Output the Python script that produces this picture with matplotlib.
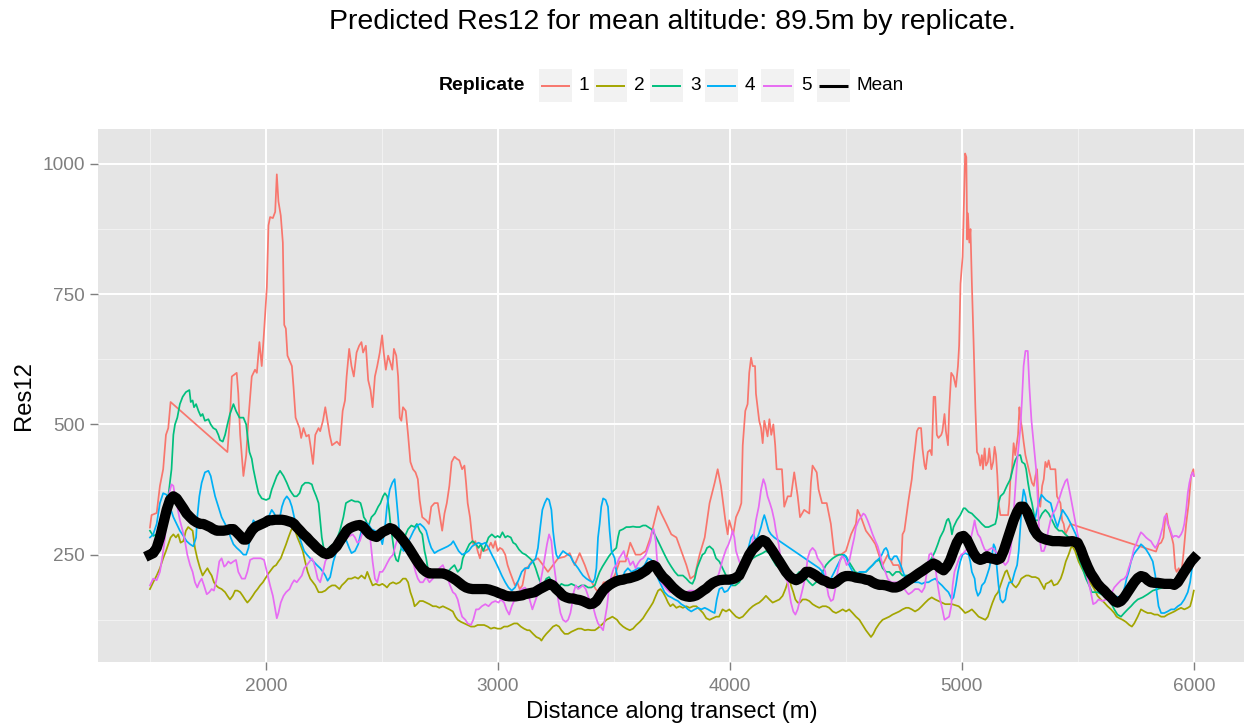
import matplotlib
matplotlib.use("Agg")
import matplotlib.pyplot as plt
from matplotlib.patches import Rectangle

# Res12 predictions along the transect, one list of (distance, value) per replicate
rep1 = [
    (1499, 302), (1506, 326), (1528, 330), (1542, 382), (1556, 414), (1568, 480), (1578, 493), (1588, 543),
    (1833, 447), (1844, 513), (1852, 592), (1873, 599), (1880, 559), (1888, 480), (1902, 401), (1914, 441),
    (1924, 513), (1938, 592), (1952, 605), (1960, 599), (1971, 658), (1981, 612), (1991, 678), (2003, 763),
    (2010, 882), (2017, 898), (2029, 896), (2039, 908), (2046, 980), (2053, 928), (2063, 901), (2072, 849),
    (2078, 691), (2085, 684), (2092, 632), (2111, 612), (2118, 572), (2127, 513), (2132, 507), (2144, 493),
    (2151, 474), (2161, 493), (2173, 477), (2184, 480), (2193, 454), (2202, 424), (2212, 480), (2226, 493),
    (2233, 487), (2245, 507), (2255, 533), (2262, 513), (2274, 480), (2284, 460), (2305, 467), (2318, 460),
    (2330, 526), (2340, 546), (2347, 592), (2358, 645), (2368, 612), (2378, 592), (2390, 638), (2401, 651),
    (2411, 658), (2418, 638), (2430, 651), (2440, 585), (2450, 566), (2459, 533), (2469, 592), (2479, 612),
    (2490, 638), (2500, 671), (2507, 638), (2516, 605), (2526, 632), (2536, 618), (2544, 605), (2551, 645),
    (2561, 632), (2569, 592), (2576, 513), (2583, 507), (2590, 533), (2602, 526), (2612, 480), (2622, 428),
    (2633, 414), (2644, 408), (2654, 395), (2662, 355), (2673, 322), (2690, 316), (2702, 309), (2712, 342),
    (2726, 349), (2740, 349), (2747, 329), (2759, 296), (2769, 329), (2779, 349), (2790, 382), (2800, 428),
    (2812, 438), (2822, 434), (2833, 431), (2845, 414), (2855, 421), (2862, 388), (2869, 349), (2879, 322),
    (2888, 283), (2893, 270), (2902, 276), (2912, 257), (2922, 243), (2930, 263), (2940, 257), (2955, 260),
    (2969, 273), (2979, 263), (2988, 276), (2998, 257), (3008, 263), (3019, 260), (3031, 250), (3041, 230),
    (3051, 217), (3062, 204), (3073, 191), (3083, 197), (3093, 184), (3105, 191), (3119, 224), (3131, 227),
    (3144, 237), (3172, 243), (3194, 230), (3215, 217), (3237, 230), (3259, 243), (3287, 246), (3309, 253),
    (3330, 230), (3352, 253), (3374, 230), (3395, 204), (3421, 184), (3435, 177), (3455, 197), (3478, 197),
    (3503, 210), (3524, 237), (3550, 237), (3570, 273), (3593, 250), (3614, 250), (3637, 257), (3657, 283),
    (3668, 303), (3690, 343), (3704, 329), (3726, 309), (3747, 289), (3769, 283), (3790, 257), (3812, 230),
    (3829, 204), (3848, 210), (3869, 250), (3891, 283), (3912, 349), (3934, 388), (3947, 414), (3961, 382),
    (3980, 316), (3990, 289), (3997, 316), (4014, 289), (4026, 322), (4040, 336), (4049, 349), (4055, 460),
    (4066, 526), (4076, 539), (4083, 599), (4091, 628), (4098, 612), (4108, 612), (4112, 559), (4126, 507),
    (4134, 493), (4141, 464), (4148, 507), (4155, 493), (4162, 477), (4170, 510), (4178, 480), (4187, 500),
    (4195, 460), (4201, 414), (4224, 414), (4234, 342), (4249, 362), (4263, 362), (4277, 408), (4292, 362),
    (4302, 322), (4320, 336), (4342, 329), (4349, 388), (4356, 421), (4374, 408), (4382, 375), (4397, 349),
    (4417, 349), (4435, 309), (4450, 250), (4478, 250), (4500, 257), (4522, 289), (4543, 309), (4550, 336),
    (4565, 322), (4586, 296), (4608, 283), (4627, 270), (4647, 243), (4658, 230), (4680, 250), (4704, 230),
    (4727, 230), (4737, 217), (4744, 289), (4752, 296), (4762, 329), (4770, 355), (4777, 375), (4784, 395),
    (4791, 428), (4798, 454), (4806, 487), (4813, 493), (4824, 493), (4830, 454), (4839, 421), (4844, 414),
    (4853, 447), (4863, 451), (4870, 441), (4878, 553), (4885, 553), (4892, 480), (4899, 474), (4911, 480),
    (4916, 487), (4925, 520), (4931, 487), (4940, 460), (4945, 526), (4954, 599), (4964, 592), (4974, 572),
    (4983, 612), (4988, 651), (4994, 770), (5003, 822), (5009, 928), (5014, 1020), (5019, 1013), (5023, 855),
    (5026, 905), (5032, 849), (5037, 875), (5043, 770), (5050, 664), (5058, 533), (5065, 447), (5072, 441),
    (5079, 421), (5086, 441), (5091, 414), (5098, 454), (5104, 421), (5112, 428), (5118, 454), (5127, 414),
    (5135, 428), (5141, 457), (5147, 441), (5153, 401), (5158, 349), (5166, 326), (5187, 326), (5199, 326),
    (5204, 349), (5209, 395), (5216, 414), (5223, 464), (5230, 441), (5242, 480), (5248, 533), (5252, 513),
    (5259, 493), (5266, 467), (5274, 441), (5288, 414), (5302, 388), (5310, 382), (5317, 401), (5324, 414),
    (5331, 349), (5338, 342), (5346, 382), (5353, 395), (5360, 428), (5367, 418), (5374, 431), (5382, 414),
    (5396, 414), (5403, 414), (5410, 362), (5425, 349), (5432, 316), (5439, 309), (5446, 289), (5461, 303),
    (5468, 309),
    (5837, 256), (5848, 270), (5859, 273), (5869, 283), (5877, 322), (5883, 329), (5892, 303), (5902, 289),
    (5912, 270), (5920, 224), (5926, 217), (5935, 224), (5945, 210), (5955, 250), (5967, 309), (5978, 349),
    (5988, 401), (5998, 414), (6000, 401),
]

rep2 = [
    (1499, 184), (1513, 197), (1528, 210), (1542, 224), (1556, 243), (1568, 257), (1578, 270), (1588, 283),
    (1600, 289), (1611, 283), (1621, 289), (1631, 273), (1643, 276), (1654, 296), (1664, 303), (1675, 299),
    (1683, 296), (1693, 263), (1703, 243), (1715, 224), (1726, 210), (1736, 217), (1747, 224), (1755, 217),
    (1765, 210), (1775, 197), (1784, 191), (1794, 187), (1808, 184), (1823, 178), (1833, 171), (1844, 164),
    (1856, 171), (1866, 181), (1876, 181), (1888, 178), (1899, 171), (1909, 164), (1919, 158), (1931, 164),
    (1942, 171), (1952, 178), (1963, 184), (1974, 191), (1986, 197), (1996, 204), (2010, 214), (2020, 220),
    (2032, 227), (2043, 230), (2053, 237), (2063, 243), (2075, 257), (2086, 270), (2096, 283), (2107, 296),
    (2115, 303), (2125, 296), (2135, 283), (2147, 270), (2158, 257), (2168, 237), (2179, 217), (2190, 204),
    (2202, 197), (2212, 191), (2226, 178), (2240, 178), (2255, 181), (2269, 187), (2284, 191), (2298, 191),
    (2316, 184), (2326, 191), (2340, 197), (2354, 204), (2368, 204), (2383, 207), (2397, 204), (2411, 210),
    (2426, 204), (2436, 217), (2447, 204), (2459, 191), (2473, 194), (2487, 191), (2501, 194), (2511, 191),
    (2521, 187), (2533, 194), (2547, 197), (2561, 194), (2576, 197), (2590, 204), (2602, 204), (2612, 197),
    (2622, 178), (2633, 164), (2640, 151), (2650, 155), (2662, 161), (2676, 161), (2690, 158), (2704, 155),
    (2719, 151), (2733, 151), (2747, 148), (2762, 151), (2776, 148), (2790, 145), (2805, 141), (2816, 131),
    (2826, 125), (2840, 121), (2855, 118), (2869, 115), (2883, 112), (2898, 112), (2912, 115), (2926, 115),
    (2940, 115), (2955, 112), (2969, 108), (2983, 110), (2998, 108), (3012, 108), (3026, 112), (3041, 112),
    (3055, 115), (3069, 118), (3083, 118), (3098, 112), (3112, 108), (3126, 105), (3136, 105), (3151, 98),
    (3165, 92), (3180, 89), (3187, 85), (3197, 92), (3208, 98), (3223, 105), (3237, 112), (3251, 115),
    (3263, 112), (3273, 105), (3287, 98), (3302, 98), (3316, 102), (3330, 105), (3345, 108), (3359, 108),
    (3374, 105), (3388, 106), (3402, 105), (3417, 105), (3427, 108), (3438, 112), (3453, 118), (3467, 125),
    (3481, 128), (3493, 131), (3503, 128), (3513, 125), (3524, 118), (3539, 112), (3553, 108), (3568, 105),
    (3582, 108), (3596, 115), (3611, 121), (3625, 128), (3639, 138), (3654, 148), (3668, 158), (3680, 171),
    (3690, 181), (3700, 184), (3711, 178), (3723, 168), (3733, 158), (3743, 151), (3754, 155), (3769, 148),
    (3783, 151), (3797, 148), (3812, 151), (3826, 148), (3841, 151), (3855, 151), (3869, 145), (3884, 138),
    (3898, 128), (3912, 125), (3927, 128), (3941, 131), (3953, 131), (3968, 145), (3983, 141), (3997, 145),
    (4011, 138), (4026, 131), (4040, 128), (4055, 131), (4069, 138), (4083, 145), (4098, 151), (4112, 155),
    (4126, 158), (4141, 164), (4155, 171), (4170, 164), (4184, 158), (4198, 161), (4213, 164), (4227, 171),
    (4239, 184), (4249, 197), (4256, 204), (4263, 191), (4273, 178), (4282, 164), (4292, 158), (4302, 158),
    (4313, 164), (4328, 164), (4342, 161), (4356, 155), (4371, 151), (4385, 148), (4399, 151), (4414, 151),
    (4428, 148), (4443, 141), (4457, 138), (4471, 141), (4486, 145), (4500, 141), (4514, 145), (4529, 138),
    (4543, 131), (4558, 125), (4572, 115), (4586, 105), (4598, 98), (4608, 92), (4618, 98), (4629, 108),
    (4644, 118), (4658, 125), (4673, 128), (4687, 131), (4701, 135), (4716, 138), (4730, 141), (4744, 145),
    (4759, 148), (4770, 148), (4784, 145), (4798, 141), (4813, 145), (4827, 151), (4842, 158), (4856, 164),
    (4870, 168), (4885, 164), (4899, 161), (4914, 158), (4928, 155), (4957, 155), (4986, 151), (5000, 145),
    (5014, 138), (5029, 141), (5043, 145), (5058, 138), (5072, 131), (5086, 128), (5101, 125), (5112, 131),
    (5122, 145), (5132, 158), (5144, 171), (5156, 178), (5166, 191), (5176, 204), (5187, 217), (5194, 220),
    (5202, 210), (5213, 197), (5223, 191), (5233, 187), (5245, 194), (5256, 204), (5266, 207), (5277, 210),
    (5288, 210), (5302, 207), (5317, 207), (5331, 204), (5347, 191), (5355, 184), (5362, 194), (5376, 197),
    (5386, 201), (5396, 191), (5412, 194), (5426, 204), (5436, 217), (5448, 237), (5460, 250), (5470, 263),
    (5477, 266), (5488, 257), (5503, 237), (5517, 224), (5535, 210), (5552, 197), (5571, 184), (5585, 171),
    (5599, 164), (5614, 158), (5628, 151), (5643, 145), (5657, 138), (5667, 131), (5679, 128), (5693, 125),
    (5707, 121), (5722, 115), (5733, 112), (5743, 118), (5758, 131), (5772, 145), (5787, 141), (5801, 138),
    (5815, 138), (5830, 135), (5844, 135), (5859, 131), (5873, 131), (5887, 135), (5902, 138), (5916, 141),
    (5931, 145), (5945, 148), (5959, 145), (5974, 148), (5984, 151), (5992, 164), (6000, 181),
]

rep3 = [
    (1499, 296), (1513, 286), (1528, 289), (1542, 309), (1556, 329), (1578, 362), (1592, 414), (1600, 480),
    (1607, 500), (1617, 513), (1628, 539), (1640, 553), (1654, 562), (1669, 566), (1675, 543), (1683, 546),
    (1689, 533), (1698, 539), (1708, 526), (1718, 516), (1726, 520), (1736, 507), (1751, 510), (1761, 500),
    (1772, 493), (1784, 490), (1794, 480), (1801, 470), (1813, 467), (1823, 480), (1833, 500), (1844, 520),
    (1859, 539), (1870, 526), (1885, 513), (1902, 513), (1914, 500), (1919, 480), (1928, 447), (1938, 434),
    (1945, 414), (1957, 388), (1967, 368), (1981, 358), (2000, 355), (2014, 358), (2024, 375), (2035, 388),
    (2046, 401), (2060, 411), (2075, 401), (2089, 388), (2101, 375), (2111, 368), (2121, 362), (2132, 362),
    (2144, 368), (2154, 382), (2168, 388), (2183, 388), (2197, 385), (2204, 375), (2216, 362), (2226, 349),
    (2233, 316), (2240, 283), (2248, 263), (2259, 257), (2269, 263), (2290, 270), (2304, 279), (2318, 296),
    (2333, 322), (2344, 349), (2355, 352), (2368, 355), (2383, 352), (2397, 352), (2407, 349), (2415, 336),
    (2421, 322), (2430, 316), (2440, 303), (2454, 322), (2469, 329), (2483, 342), (2493, 349), (2504, 362),
    (2512, 368), (2522, 362), (2530, 336), (2536, 309), (2544, 283), (2554, 250), (2561, 240), (2569, 237),
    (2579, 257), (2590, 270), (2602, 289), (2612, 299), (2626, 306), (2640, 303), (2650, 309), (2662, 296),
    (2673, 289), (2683, 257), (2690, 243), (2697, 224), (2712, 217), (2726, 214), (2740, 217), (2755, 220),
    (2769, 217), (2783, 217), (2797, 224), (2812, 230), (2826, 217), (2840, 224), (2848, 243), (2862, 257),
    (2876, 270), (2890, 276), (2905, 270), (2916, 263), (2926, 270), (2936, 257), (2948, 270), (2959, 283),
    (2973, 289), (2988, 283), (2998, 286), (3008, 283), (3019, 293), (3031, 283), (3041, 286), (3055, 283),
    (3065, 273), (3076, 270), (3090, 260), (3105, 253), (3119, 250), (3137, 243), (3151, 237), (3162, 224),
    (3172, 210), (3182, 197), (3194, 191), (3208, 204), (3220, 207), (3230, 200), (3244, 191), (3259, 187),
    (3273, 194), (3287, 191), (3302, 191), (3316, 194), (3330, 191), (3345, 187), (3359, 191), (3374, 191),
    (3388, 187), (3402, 187), (3417, 191), (3427, 204), (3438, 217), (3450, 227), (3464, 237), (3478, 247),
    (3496, 257), (3510, 263), (3517, 283), (3524, 296), (3539, 299), (3553, 303), (3568, 303), (3582, 304),
    (3596, 303), (3611, 303), (3625, 306), (3637, 306), (3647, 303), (3661, 299), (3675, 289), (3690, 276),
    (3704, 263), (3718, 250), (3733, 237), (3747, 227), (3762, 217), (3776, 210), (3797, 210), (3812, 204),
    (3826, 197), (3838, 194), (3848, 204), (3858, 224), (3869, 237), (3881, 250), (3891, 253), (3901, 263),
    (3912, 266), (3927, 260), (3940, 243), (3954, 237), (3968, 224), (3983, 210), (3994, 204), (4009, 191),
    (4023, 191), (4040, 197), (4055, 210), (4069, 224), (4083, 237), (4098, 243), (4112, 247), (4126, 250),
    (4141, 253), (4155, 257), (4170, 253), (4181, 243), (4198, 230), (4213, 224), (4227, 217), (4241, 210),
    (4256, 210), (4270, 204), (4285, 210), (4299, 217), (4313, 210), (4328, 204), (4342, 197), (4356, 191),
    (4371, 197), (4385, 204), (4399, 217), (4414, 230), (4428, 237), (4443, 243), (4457, 247), (4471, 250),
    (4486, 250), (4500, 247), (4512, 237), (4526, 227), (4540, 217), (4555, 214), (4569, 217), (4586, 217),
    (4601, 224), (4615, 230), (4629, 237), (4644, 240), (4658, 224), (4673, 217), (4687, 217), (4701, 210),
    (4716, 217), (4730, 217), (4744, 210), (4759, 210), (4770, 210), (4791, 204), (4813, 210), (4834, 224),
    (4856, 237), (4870, 243), (4885, 257), (4896, 270), (4906, 283), (4921, 296), (4935, 316), (4942, 319),
    (4950, 309), (4957, 289), (4964, 303), (4978, 316), (4993, 326), (5007, 339), (5014, 339), (5029, 332),
    (5043, 329), (5058, 322), (5072, 316), (5086, 309), (5101, 303), (5115, 303), (5130, 306), (5144, 309),
    (5151, 322), (5158, 349), (5166, 362), (5180, 368), (5194, 382), (5209, 395), (5219, 414), (5230, 431),
    (5242, 441), (5252, 441), (5259, 428), (5271, 424), (5277, 414), (5285, 388), (5295, 362), (5302, 349),
    (5310, 329), (5317, 316), (5331, 316), (5346, 329), (5360, 336), (5374, 329), (5389, 316), (5403, 303),
    (5418, 296), (5432, 296), (5446, 289), (5461, 283), (5475, 276), (5490, 270), (5504, 243), (5520, 224),
    (5535, 204), (5549, 191), (5560, 178), (5585, 178), (5614, 171), (5643, 158), (5657, 145), (5671, 135),
    (5686, 131), (5700, 138), (5715, 145), (5729, 151), (5743, 158), (5758, 164), (5779, 168), (5801, 174),
    (5823, 181), (5844, 184), (5866, 187), (5902, 197), (5923, 204), (5945, 210), (5967, 217), (5981, 230),
    (5992, 243), (6000, 250),
]

rep4 = [
    (1499, 283), (1513, 289), (1528, 309), (1542, 349), (1556, 368), (1571, 365), (1585, 342), (1600, 322),
    (1614, 309), (1628, 296), (1643, 286), (1657, 276), (1672, 270), (1686, 266), (1698, 283), (1703, 322),
    (1712, 362), (1722, 388), (1736, 408), (1751, 411), (1761, 401), (1770, 382), (1780, 362), (1794, 342),
    (1808, 322), (1823, 309), (1837, 296), (1847, 283), (1859, 270), (1873, 263), (1888, 257), (1902, 250),
    (1914, 250), (1924, 263), (1934, 296), (1945, 316), (1957, 309), (1967, 306), (1981, 309), (1996, 316),
    (2010, 322), (2024, 336), (2035, 329), (2046, 316), (2058, 319), (2068, 342), (2078, 355), (2089, 362),
    (2101, 355), (2111, 342), (2121, 322), (2132, 303), (2144, 283), (2154, 270), (2164, 257), (2176, 250),
    (2190, 243), (2204, 237), (2219, 230), (2233, 224), (2245, 217), (2255, 210), (2265, 200), (2276, 207),
    (2290, 237), (2304, 257), (2318, 276), (2333, 283), (2347, 276), (2358, 263), (2368, 253), (2383, 257),
    (2397, 270), (2411, 296), (2426, 312), (2440, 309), (2454, 299), (2469, 296), (2483, 289), (2493, 283),
    (2501, 270), (2511, 296), (2521, 342), (2533, 375), (2544, 388), (2554, 395), (2561, 362), (2569, 322),
    (2576, 283), (2583, 263), (2593, 257), (2607, 270), (2622, 283), (2636, 296), (2650, 306), (2664, 309),
    (2679, 303), (2690, 296), (2702, 276), (2712, 263), (2726, 253), (2740, 257), (2755, 260), (2769, 263),
    (2783, 266), (2797, 270), (2807, 276), (2819, 266), (2830, 257), (2845, 250), (2859, 253), (2873, 257),
    (2888, 266), (2902, 270), (2916, 273), (2930, 270), (2945, 273), (2959, 263), (2973, 250), (2988, 237),
    (3002, 224), (3016, 210), (3031, 197), (3045, 187), (3059, 181), (3073, 187), (3088, 201), (3102, 217),
    (3116, 224), (3131, 224), (3136, 230), (3151, 237), (3162, 243), (3172, 263), (3182, 303), (3191, 336),
    (3201, 349), (3211, 358), (3220, 355), (3230, 336), (3237, 296), (3244, 270), (3251, 250), (3259, 243),
    (3269, 250), (3280, 257), (3292, 253), (3302, 250), (3312, 247), (3323, 237), (3335, 230), (3345, 224),
    (3355, 217), (3366, 210), (3381, 204), (3395, 200), (3409, 197), (3417, 204), (3424, 224), (3431, 283),
    (3438, 309), (3445, 342), (3453, 358), (3464, 355), (3474, 342), (3481, 296), (3489, 257), (3496, 250),
    (3503, 243), (3510, 217), (3517, 204), (3524, 197), (3536, 204), (3546, 217), (3560, 224), (3575, 217),
    (3589, 220), (3603, 224), (3618, 224), (3632, 230), (3647, 243), (3661, 240), (3675, 224), (3690, 204),
    (3704, 191), (3718, 178), (3733, 171), (3747, 168), (3762, 164), (3776, 161), (3790, 155), (3805, 151),
    (3819, 145), (3833, 141), (3848, 145), (3862, 148), (3876, 145), (3891, 148), (3905, 145), (3920, 141),
    (3934, 138), (3943, 164), (3954, 184), (3966, 187), (3976, 178), (3990, 181), (4004, 191), (4019, 197),
    (4033, 204), (4047, 217), (4062, 237), (4076, 257), (4091, 283), (4101, 289), (4112, 276), (4124, 289),
    (4134, 303), (4141, 316), (4148, 326), (4155, 316), (4167, 296), (4177, 289), (4191, 283),
    (4385, 224), (4399, 217), (4414, 204), (4425, 197), (4435, 204), (4450, 217), (4464, 230), (4479, 243),
    (4493, 250), (4503, 243), (4514, 230), (4529, 217), (4543, 210), (4558, 217), (4586, 217), (4601, 224),
    (4615, 230), (4629, 237), (4644, 243), (4655, 250), (4665, 260), (4673, 263), (4680, 257), (4687, 243),
    (4698, 240), (4708, 247), (4719, 247), (4730, 237), (4741, 224), (4752, 210), (4762, 197), (4770, 204),
    (4784, 201), (4798, 197), (4813, 197), (4827, 194), (4842, 197), (4856, 197), (4870, 201), (4885, 204),
    (4899, 197), (4914, 191), (4928, 184), (4942, 178), (4957, 164), (4964, 168), (4974, 191), (4983, 217),
    (4993, 237), (5003, 250), (5014, 253), (5029, 250), (5036, 237), (5043, 217), (5055, 204), (5060, 184),
    (5069, 171), (5079, 178), (5086, 191), (5098, 197), (5108, 210), (5118, 224), (5130, 250), (5137, 270),
    (5144, 263), (5151, 224), (5158, 191), (5166, 164), (5176, 158), (5187, 164), (5194, 184), (5204, 197),
    (5216, 197), (5228, 217), (5238, 230), (5245, 257), (5252, 303), (5259, 349), (5266, 375), (5274, 362),
    (5281, 342), (5288, 316), (5295, 296), (5302, 289), (5310, 303), (5317, 322), (5331, 349), (5343, 365),
    (5362, 355), (5383, 349), (5398, 322), (5412, 303), (5434, 336), (5455, 322), (5470, 309), (5491, 289),
    (5513, 263), (5535, 237), (5556, 217), (5571, 204), (5585, 197), (5599, 191), (5614, 184), (5635, 178),
    (5657, 171), (5679, 168), (5693, 174), (5704, 191), (5710, 204), (5719, 217), (5729, 237), (5740, 250),
    (5751, 257), (5762, 263), (5772, 270), (5782, 266), (5794, 260), (5808, 250), (5823, 237), (5834, 210),
    (5840, 178), (5848, 151), (5859, 138), (5873, 138), (5887, 141), (5902, 145), (5916, 145), (5931, 151),
    (5945, 155), (5959, 164), (5974, 178), (5984, 197), (5992, 224), (6000, 250),
]

rep5 = [
    (1499, 191), (1513, 204), (1528, 201), (1542, 217), (1554, 250), (1564, 283), (1574, 336), (1582, 368),
    (1592, 385), (1600, 382), (1607, 362), (1617, 342), (1628, 316), (1640, 296), (1650, 276), (1660, 250),
    (1672, 230), (1683, 217), (1693, 197), (1703, 187), (1712, 197), (1722, 204), (1732, 191), (1744, 174),
    (1755, 178), (1765, 184), (1775, 181), (1787, 204), (1798, 237), (1808, 243), (1819, 227), (1827, 230),
    (1837, 237), (1847, 233), (1859, 237), (1870, 240), (1880, 217), (1895, 204), (1909, 204), (1919, 217),
    (1931, 240), (1945, 243), (1960, 243), (1977, 243), (1991, 240), (2003, 217), (2017, 191), (2029, 171),
    (2039, 145), (2046, 128), (2053, 138), (2063, 158), (2075, 171), (2086, 178), (2101, 184), (2111, 194),
    (2121, 201), (2132, 197), (2144, 204), (2154, 210), (2164, 224), (2176, 230), (2187, 237), (2197, 243),
    (2204, 237), (2212, 224), (2222, 204), (2233, 197), (2245, 217), (2255, 237), (2269, 250), (2284, 257),
    (2304, 260), (2318, 270), (2333, 279), (2347, 283), (2361, 286), (2373, 289), (2383, 283), (2393, 273),
    (2404, 276), (2418, 296), (2430, 309), (2440, 303), (2450, 276), (2459, 237), (2469, 204), (2479, 197),
    (2490, 217), (2501, 217), (2511, 224), (2521, 233), (2533, 243), (2547, 250), (2559, 270), (2569, 283),
    (2579, 289), (2590, 283), (2602, 279), (2612, 270), (2622, 257), (2633, 237), (2644, 217), (2654, 204),
    (2664, 197), (2676, 197), (2690, 207), (2704, 197), (2719, 204), (2733, 217), (2747, 224), (2762, 230),
    (2773, 217), (2783, 204), (2793, 191), (2805, 178), (2816, 174), (2826, 164), (2836, 145), (2845, 131),
    (2859, 125), (2869, 118), (2883, 115), (2893, 125), (2905, 145), (2916, 145), (2930, 151), (2945, 155),
    (2959, 151), (2973, 158), (2988, 161), (3002, 158), (3012, 164), (3026, 158), (3036, 145), (3048, 135),
    (3059, 151), (3069, 161), (3079, 164), (3091, 178), (3102, 184), (3116, 187), (3129, 178), (3136, 164),
    (3148, 145), (3158, 158), (3168, 171), (3180, 191), (3191, 217), (3201, 243), (3211, 270), (3220, 289),
    (3230, 276), (3237, 243), (3249, 204), (3259, 164), (3269, 138), (3280, 125), (3292, 121), (3302, 125),
    (3312, 138), (3320, 158), (3326, 178), (3335, 191), (3345, 184), (3355, 187), (3366, 191), (3378, 184),
    (3388, 171), (3398, 158), (3409, 151), (3421, 131), (3431, 118), (3441, 112), (3453, 105), (3460, 125),
    (3470, 151), (3478, 184), (3489, 210), (3499, 224), (3510, 230), (3522, 243), (3532, 250), (3542, 257),
    (3550, 243), (3560, 243), (3570, 230), (3582, 237), (3593, 224), (3603, 233), (3614, 240), (3625, 243),
    (3637, 250), (3647, 263), (3657, 276), (3665, 296), (3671, 299), (3680, 276), (3685, 243), (3694, 217),
    (3704, 197), (3714, 191), (3726, 184), (3740, 178), (3754, 178), (3769, 174), (3783, 171), (3797, 174),
    (3812, 178), (3826, 181), (3841, 181), (3855, 178), (3869, 174), (3884, 178), (3898, 181), (3912, 184),
    (3927, 190), (3941, 200), (3953, 215), (3968, 240), (3983, 260), (3994, 270), (4004, 283), (4011, 296),
    (4019, 283), (4026, 257), (4040, 237), (4055, 224), (4069, 227), (4080, 243), (4091, 263), (4101, 283),
    (4112, 316), (4124, 342), (4134, 375), (4144, 395), (4152, 385), (4162, 362), (4172, 349), (4181, 336),
    (4191, 316), (4198, 296), (4210, 270), (4220, 237), (4230, 217), (4241, 204), (4249, 197), (4256, 178),
    (4263, 158), (4273, 141), (4282, 135), (4292, 145), (4302, 164), (4310, 178), (4320, 197), (4328, 217),
    (4335, 243), (4345, 257), (4356, 263), (4368, 257), (4378, 243), (4388, 237), (4399, 230), (4411, 217),
    (4417, 191), (4425, 171), (4435, 161), (4445, 164), (4454, 184), (4464, 217), (4474, 237), (4483, 247),
    (4493, 243), (4503, 230), (4514, 237), (4526, 263), (4536, 283), (4543, 303), (4555, 316), (4565, 322),
    (4575, 329), (4583, 326), (4593, 316), (4604, 303), (4615, 289), (4627, 276), (4637, 266), (4647, 250),
    (4658, 230), (4670, 217), (4680, 204), (4694, 197), (4708, 197), (4723, 197), (4737, 191), (4752, 184),
    (4762, 178), (4770, 174), (4784, 178), (4798, 184), (4813, 184), (4827, 178), (4839, 187), (4849, 217),
    (4859, 250), (4868, 253), (4878, 243), (4888, 217), (4896, 191), (4906, 164), (4916, 145), (4925, 125),
    (4935, 128), (4945, 131), (4954, 151), (4960, 191), (4968, 217), (4978, 230), (4988, 243), (4997, 250),
    (5007, 253), (5014, 257), (5026, 263), (5036, 276), (5046, 296), (5055, 316), (5060, 303), (5069, 289),
    (5079, 283), (5089, 270), (5098, 260), (5108, 257), (5118, 260), (5130, 263), (5144, 257), (5156, 250),
    (5166, 243), (5176, 237), (5187, 230), (5199, 237), (5209, 257), (5216, 283), (5223, 329), (5230, 375),
    (5238, 428), (5245, 460), (5252, 493), (5259, 546), (5266, 612), (5274, 641), (5284, 641), (5291, 572),
    (5300, 507), (5310, 460), (5320, 414), (5328, 349), (5334, 283), (5343, 257), (5353, 257), (5363, 270),
    (5372, 296), (5382, 316), (5392, 329), (5403, 336), (5418, 355), (5432, 375), (5446, 391), (5454, 395),
    (5466, 368), (5477, 342), (5488, 316), (5499, 289), (5513, 263), (5527, 230), (5542, 204), (5556, 178),
    (5566, 155), (5578, 158), (5589, 164), (5607, 161), (5621, 164), (5635, 171), (5647, 178), (5657, 187),
    (5671, 194), (5686, 201), (5700, 204), (5710, 210), (5719, 224), (5729, 237), (5736, 250), (5743, 263),
    (5751, 270), (5762, 283), (5772, 293), (5782, 289), (5794, 283), (5805, 279), (5815, 276), (5823, 270),
    (5834, 263), (5844, 270), (5854, 283), (5866, 303), (5873, 322), (5880, 326), (5887, 309), (5895, 303),
    (5902, 293), (5909, 283), (5916, 286), (5926, 286), (5935, 283), (5945, 289), (5952, 296), (5959, 309),
    (5967, 336), (5974, 368), (5981, 388), (5988, 401), (5995, 408), (6000, 401),
]

# mean of the five replicates
rep_mean = [
    (1499, 250), (1513, 253), (1528, 263), (1542, 283), (1556, 309), (1571, 336), (1585, 355), (1600, 362),
    (1614, 358), (1628, 349), (1643, 339), (1657, 329), (1672, 322), (1686, 316), (1700, 312), (1715, 309),
    (1729, 309), (1744, 306), (1758, 303), (1772, 299), (1787, 296), (1801, 296), (1816, 296), (1830, 297),
    (1844, 299), (1859, 299), (1873, 293), (1888, 286), (1902, 279), (1914, 279), (1924, 286), (1938, 296),
    (1952, 303), (1967, 306), (1981, 309), (1996, 312), (2010, 316), (2024, 316), (2039, 317), (2053, 317),
    (2068, 317), (2082, 316), (2096, 314), (2111, 312), (2121, 309), (2132, 303), (2147, 296), (2161, 289),
    (2176, 283), (2190, 276), (2204, 270), (2219, 263), (2233, 258), (2248, 253), (2262, 251), (2276, 253),
    (2290, 260), (2304, 266), (2318, 276), (2333, 286), (2347, 296), (2361, 301), (2376, 304), (2390, 306),
    (2404, 307), (2418, 304), (2433, 296), (2447, 289), (2461, 286), (2476, 284), (2490, 289), (2504, 294),
    (2519, 297), (2533, 301), (2547, 299), (2561, 293), (2576, 286), (2590, 278), (2604, 270), (2619, 260),
    (2633, 250), (2647, 240), (2662, 230), (2676, 222), (2690, 217), (2704, 214), (2719, 214), (2733, 214),
    (2747, 214), (2762, 214), (2776, 212), (2790, 209), (2805, 205), (2819, 201), (2833, 196), (2847, 191),
    (2862, 187), (2876, 185), (2890, 184), (2905, 184), (2919, 184), (2933, 184), (2948, 184), (2962, 183),
    (2976, 181), (2990, 179), (3005, 176), (3019, 174), (3033, 171), (3048, 170), (3062, 170), (3076, 170),
    (3091, 171), (3105, 172), (3115, 174), (3136, 176), (3158, 178), (3180, 184), (3201, 189), (3223, 194),
    (3237, 191), (3251, 184), (3266, 178), (3280, 171), (3295, 168), (3309, 166), (3323, 166), (3338, 164),
    (3352, 163), (3366, 161), (3381, 158), (3395, 155), (3409, 156), (3424, 161), (3438, 171), (3453, 181),
    (3467, 187), (3481, 192), (3496, 196), (3510, 199), (3524, 201), (3539, 202), (3553, 204), (3568, 205),
    (3582, 207), (3596, 209), (3611, 212), (3625, 216), (3639, 220), (3654, 227), (3668, 230), (3680, 227),
    (3694, 217), (3711, 207), (3726, 201), (3740, 194), (3754, 187), (3769, 181), (3783, 176), (3797, 172),
    (3812, 170), (3826, 169), (3841, 170), (3855, 172), (3869, 176), (3884, 181), (3898, 185), (3912, 191),
    (3927, 196), (3941, 199), (3954, 201), (3976, 202), (3997, 202), (4019, 204), (4040, 210), (4055, 224),
    (4069, 237), (4083, 250), (4098, 260), (4112, 266), (4126, 273), (4141, 278), (4155, 275), (4170, 266),
    (4184, 257), (4198, 247), (4213, 237), (4227, 227), (4241, 217), (4256, 209), (4270, 204), (4285, 201),
    (4299, 204), (4313, 209), (4328, 217), (4342, 217), (4356, 214), (4371, 210), (4385, 205), (4399, 201),
    (4414, 199), (4428, 195), (4443, 194), (4457, 197), (4471, 202), (4486, 207), (4500, 209), (4514, 209),
    (4529, 208), (4543, 206), (4558, 205), (4572, 204), (4586, 202), (4601, 201), (4615, 197), (4629, 194),
    (4644, 192), (4658, 192), (4673, 191), (4687, 189), (4701, 187), (4716, 187), (4730, 189), (4748, 194),
    (4770, 201), (4791, 207), (4813, 214), (4834, 220), (4856, 227), (4878, 233), (4892, 230), (4906, 224),
    (4921, 220), (4935, 227), (4950, 240), (4964, 257), (4978, 273), (4993, 284), (5007, 286), (5022, 279),
    (5036, 266), (5050, 253), (5065, 243), (5079, 240), (5094, 242), (5108, 247), (5122, 243), (5137, 242),
    (5151, 240), (5166, 243), (5180, 257), (5194, 276), (5209, 296), (5223, 316), (5238, 332), (5252, 342),
    (5266, 342), (5281, 332), (5295, 316), (5310, 299), (5324, 289), (5338, 283), (5362, 279), (5391, 276),
    (5419, 276), (5448, 275), (5477, 276), (5499, 273), (5513, 260), (5527, 243), (5542, 227), (5556, 214),
    (5571, 204), (5585, 194), (5599, 187), (5614, 181), (5628, 174), (5643, 168), (5657, 161), (5671, 158),
    (5686, 161), (5700, 168), (5715, 178), (5729, 187), (5743, 197), (5758, 205), (5772, 209), (5787, 207),
    (5801, 201), (5815, 197), (5830, 196), (5844, 196), (5859, 195), (5873, 194), (5887, 194), (5902, 194),
    (5916, 192), (5931, 197), (5945, 207), (5959, 217), (5974, 227), (5988, 237), (6000, 243),
]

replicates = ["1", "2", "3", "4", "5"]
rep_colors = ["#F8766D", "#A3A500", "#00BF7D", "#00B0F6", "#E76BF3"]

x_ticks = [2000, 3000, 4000, 5000, 6000]
x_minor = [1500, 2500, 3500, 4500, 5500]
y_ticks = [250, 500, 750, 1000]
y_minor = [125, 375, 625, 875]

plt.rcParams["font.family"] = ["Liberation Sans", "DejaVu Sans"]

W, H = 1244, 724
fig = plt.figure(figsize=(W / 100, H / 100), dpi=100)
fig.patch.set_facecolor("white")

# panel placed in pixel terms, ggplot grey theme look
left, right, top, bottom = 98, 1246, 129, 662
ax = fig.add_axes([left / W, 1 - bottom / H, (right - left) / W, (bottom - top) / H])
ax.set_facecolor("#E5E5E5")
for sp in ax.spines.values():
    sp.set_visible(False)
ax.set_xlim(1275, 6225)
ax.set_ylim(44, 1067)
ax.set_xticks(x_ticks)
ax.set_xticks(x_minor, minor=True)
ax.set_yticks(y_ticks)
ax.set_yticks(y_minor, minor=True)
ax.grid(which="major", color="white", lw=1.4)
ax.grid(which="minor", color="#F2F2F2", lw=0.7)
ax.set_axisbelow(True)
ax.tick_params(which="major", length=5.5, width=1.0, color="#7F7F7F",
               labelcolor="#7F7F7F", labelsize=13.7, pad=4)
ax.tick_params(axis="x", which="major", pad=6)
ax.tick_params(which="minor", length=0)

series = [rep1, rep2, rep3, rep4, rep5]
for pts, col in zip(series, rep_colors):
    xs, ys = zip(*pts)
    ax.plot(xs, ys, color=col, lw=1.25, solid_joinstyle="round", zorder=2)

mx, my = zip(*rep_mean)
ax.plot(mx, my, color="black", lw=7.4, solid_joinstyle="round", zorder=3)

ax.set_xlabel("Distance along transect (m)", fontsize=17.2, labelpad=4)
ax.set_ylabel("Res12", fontsize=17.2, labelpad=5)

fig.text(672 / W, 1 - 22 / H, "Predicted Res12 for mean altitude: 89.5m by replicate.",
         ha="center", va="center", fontsize=20.5)

# legend strip above the panel
lg = fig.add_axes([0, 0, 1, 1])
lg.set_xlim(0, W)
lg.set_ylim(H, 0)
lg.axis("off")
lg.text(439, 85, "Replicate", fontweight="bold", fontsize=14, ha="left", va="center")
key_left = [539, 594, 650, 705, 761, 817]
labels = replicates + ["Mean"]
colors = rep_colors + ["black"]
widths = [1.4] * 5 + [2.2]
for kx, lab, col, w in zip(key_left, labels, colors, widths):
    lg.add_patch(Rectangle((kx, 69), 33, 33, facecolor="#F2F2F2", edgecolor="none"))
    lg.plot([kx + 2, kx + 31], [85.5, 85.5], color=col, lw=w, solid_capstyle="butt")
    lg.text(kx + 40, 86, lab, fontsize=13.7, ha="left", va="center")

fig.savefig("out.png", dpi=100)
